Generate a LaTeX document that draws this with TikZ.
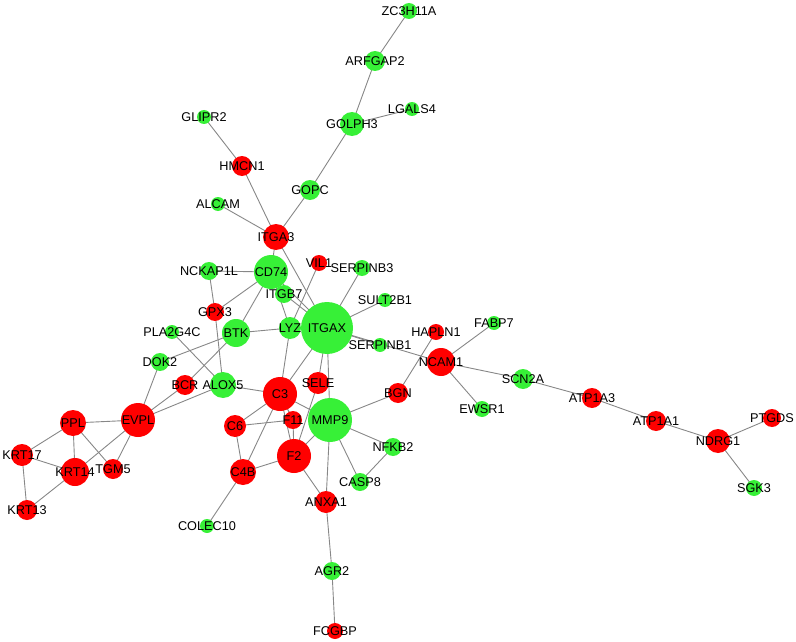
\documentclass[tikz,border=0pt]{standalone}
\usepackage{fontspec}
\setmainfont{Liberation Sans}
\pgfdeclarelayer{background}
\pgfsetlayers{background,main}
\definecolor{nred}{RGB}{255,0,0}
\definecolor{ngreen}{RGB}{55,240,55}
\definecolor{edgec}{RGB}{135,135,135}
\tikzset{
  gnode/.style={circle,draw=none,inner sep=0pt,
    label={[font=\fontsize{12.7}{12.7}\selectfont,text=black,inner sep=0pt]center:#1}},
  rn/.style={gnode=#1,fill=nred},
  gr/.style={gnode=#1,fill=ngreen},
  sz/.style={minimum size=#1pt},
  edge/.style={draw=edgec,line width=0.9pt}
}
\begin{document}
\begin{tikzpicture}[x=1pt,y=-1pt]
\useasboundingbox (0,0) rectangle (796,642);
% nodes
\node[gr=ZC3H11A,sz=16] (ZC3H11A) at (409,11) {};
\node[gr=ARFGAP2,sz=20] (ARFGAP2) at (375,61) {};
\node[gr=LGALS4,sz=14] (LGALS4) at (412,109) {};
\node[gr=GOLPH3,sz=24] (GOLPH3) at (352,124) {};
\node[gr=GLIPR2,sz=14] (GLIPR2) at (204,117) {};
\node[rn=HMCN1,sz=20] (HMCN1) at (242,166) {};
\node[gr=GOPC,sz=20] (GOPC) at (310,190) {};
\node[gr=ALCAM,sz=14] (ALCAM) at (218,204) {};
\node[rn=ITGA3,sz=26] (ITGA3) at (276,237) {};
\node[gr=CD74,sz=34] (CD74) at (271,272) {};
\node[gr=NCKAP1L,sz=18] (NCKAP1L) at (209,271) {};
\node[rn=VIL1,sz=16] (VIL1) at (319,263) {};
\node[gr=SERPINB3,sz=16] (SERPINB3) at (362,268) {};
\node[gr=ITGB7,sz=18] (ITGB7) at (284,294) {};
\node[gr=ITGAX,sz=52] (ITGAX) at (327,328) {};
\node[gr=LYZ,sz=22] (LYZ) at (290,328) {};
\node[gr=BTK,sz=28] (BTK) at (236,333) {};
\node[gr=SULT2B1,sz=14] (SULT2B1) at (385,300) {};
\node[gr=SERPINB1,sz=14] (SERPINB1) at (380,345) {};
\node[rn=GPX3,sz=18] (GPX3) at (215,312) {};
\node[gr=PLA2G4C,sz=14] (PLA2G4C) at (172,332) {};
\node[gr=DOK2,sz=18] (DOK2) at (160,362) {};
\node[rn=BCR,sz=20] (BCR) at (185,385) {};
\node[gr=ALOX5,sz=26] (ALOX5) at (223,385) {};
\node[rn=EVPL,sz=34] (EVPL) at (138,420) {};
\node[rn=PPL,sz=26] (PPL) at (73,423) {};
\node[rn=KRT17,sz=22] (KRT17) at (22,455) {};
\node[rn=KRT14,sz=28] (KRT14) at (75,472) {};
\node[rn=TGM5,sz=20] (TGM5) at (113,469) {};
\node[rn=KRT13,sz=20] (KRT13) at (27,510) {};
\node[rn=C6,sz=22] (C6) at (235,426) {};
\node[rn=C4B,sz=26] (C4B) at (243,472) {};
\node[rn=C3,sz=34] (C3) at (280,394) {};
\node[rn=SELE,sz=22] (SELE) at (318,383) {};
\node[rn=F11,sz=18] (F11) at (293,420) {};
\node[gr=MMP9,sz=44] (MMP9) at (330,420) {};
\node[rn=F2,sz=34] (F2) at (294,456) {};
\node[rn=BGN,sz=20] (BGN) at (398,393) {};
\node[gr=NFKB2,sz=18] (NFKB2) at (393,447) {};
\node[gr=CASP8,sz=18] (CASP8) at (360,482) {};
\node[rn=ANXA1,sz=22] (ANXA1) at (326,502) {};
\node[gr=COLEC10,sz=14] (COLEC10) at (207,526) {};
\node[gr=AGR2,sz=18] (AGR2) at (332,571) {};
\node[rn=FCGBP,sz=16] (FCGBP) at (335,631) {};
\node[rn=HAPLN1,sz=16] (HAPLN1) at (436,332) {};
\node[rn=NCAM1,sz=28] (NCAM1) at (441,362) {};
\node[gr=FABP7,sz=14] (FABP7) at (494,323) {};
\node[gr=EWSR1,sz=16] (EWSR1) at (482,409) {};
\node[gr=SCN2A,sz=20] (SCN2A) at (523,379) {};
\node[rn=ATP1A3,sz=20] (ATP1A3) at (592,398) {};
\node[rn=ATP1A1,sz=20] (ATP1A1) at (656,421) {};
\node[rn=NDRG1,sz=24] (NDRG1) at (718,441) {};
\node[rn=PTGDS,sz=18] (PTGDS) at (772,418) {};
\node[gr=SGK3,sz=16] (SGK3) at (754,488) {};
% edges
\begin{pgfonlayer}{background}
\foreach \a/\b in {ZC3H11A/ARFGAP2,ARFGAP2/GOLPH3,GOLPH3/LGALS4,GOLPH3/GOPC,
  GOPC/ITGA3,GLIPR2/HMCN1,HMCN1/ITGA3,ALCAM/ITGA3,ITGA3/CD74,ITGA3/ITGAX,
  NCKAP1L/CD74,NCKAP1L/GPX3,GPX3/ALOX5,CD74/GPX3,CD74/BTK,CD74/LYZ,
  CD74/ITGAX,ITGB7/ITGAX,VIL1/LYZ,SERPINB3/ITGAX,SULT2B1/ITGAX,
  ITGAX/SERPINB1,ITGAX/NCAM1,ITGAX/LYZ,BTK/LYZ,BTK/DOK2,BTK/BCR,
  PLA2G4C/ALOX5,DOK2/EVPL,BCR/EVPL,ALOX5/EVPL,ALOX5/C3,LYZ/C3,ITGAX/C3,
  ITGAX/SELE,ITGAX/MMP9,SELE/F2,C3/F2,C3/F11,C3/C6,C3/C4B,C3/MMP9,
  F11/F2,C6/F11,C6/C4B,C4B/F2,C4B/COLEC10,F2/MMP9,F2/ANXA1,MMP9/ANXA1,
  MMP9/CASP8,MMP9/NFKB2,MMP9/BGN,NFKB2/CASP8,ANXA1/AGR2,AGR2/FCGBP,
  BGN/HAPLN1,NCAM1/FABP7,NCAM1/EWSR1,NCAM1/SCN2A,SCN2A/ATP1A3,
  ATP1A3/ATP1A1,ATP1A1/NDRG1,NDRG1/PTGDS,NDRG1/SGK3,
  EVPL/PPL,EVPL/KRT14,EVPL/TGM5,PPL/KRT17,PPL/KRT14,PPL/TGM5,
  KRT17/KRT14,KRT17/KRT13,KRT13/KRT14}
  \draw[edge] (\a.center) -- (\b.center);
\end{pgfonlayer}
\end{tikzpicture}
\end{document}
